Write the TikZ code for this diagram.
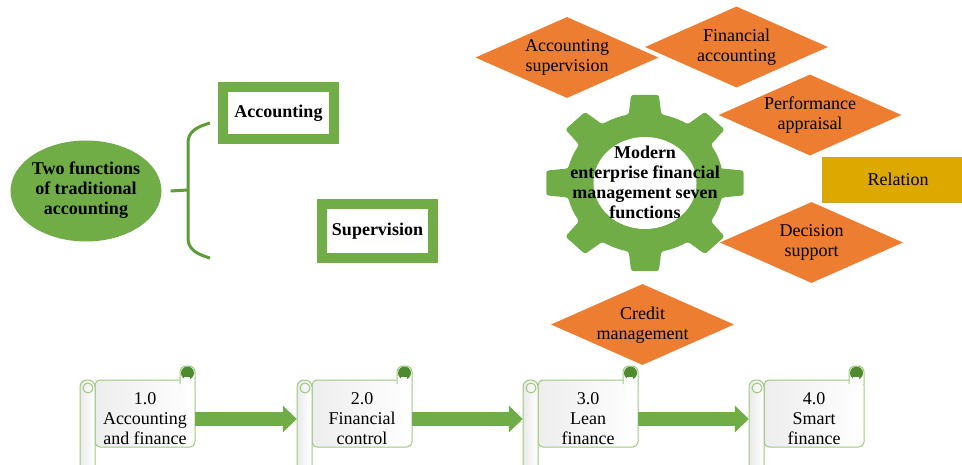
\documentclass[tikz,border=0pt]{standalone}
\usepackage{fontspec}
\setmainfont{LiberationSerif}[Extension=.ttf, UprightFont=*-Regular, BoldFont=*-Bold, ItalicFont=*-Italic, BoldItalicFont=*-BoldItalic]
\usetikzlibrary{shapes.geometric,arrows.meta}
\definecolor{gr}{HTML}{70AD47}
\definecolor{orng}{HTML}{ED7D31}
\definecolor{gold}{HTML}{DDA800}
\definecolor{goldline}{HTML}{C9A227}
\definecolor{brc}{HTML}{5E9C3A}
\definecolor{scl}{HTML}{9DC97F}
\definecolor{dkg}{HTML}{4E8A2E}
\begin{document}
\begin{tikzpicture}[x=1pt,y=-1pt,
  tx/.style={align=center, inner sep=0pt, text=black, font=\rmfamily\fontsize{18}{20}\selectfont},
  btx/.style={tx, font=\rmfamily\fontsize{18}{20}\selectfont\bfseries},
  dia/.style={diamond, fill=orng, minimum width=183pt, minimum height=81pt, inner sep=0pt},
  gbox/.style={btx, draw=gr, line width=10pt, fill=white},
  ell/.style={ellipse, fill=gr, minimum width=151pt, minimum height=101pt, inner sep=0pt},
  relbox/.style={tx, fill=gold, draw=goldline, line width=0.8pt, minimum width=152pt, minimum height=45pt},
  arr/.style={draw=gr, line width=14pt, -{Triangle[length=14pt,width=26pt,fill=gr]}},
  brace/.style={draw=brc, line width=3pt},
  scrollpic/.pic={
    \draw[scl, line width=1pt, left color=black!7, right color=white, rounded corners=5pt] (15,14) rectangle (115,81);
    \draw[scl, line width=1pt, fill=white, rounded corners=6pt] (100,18) -- (100,0) -- (115,0) -- (115,18);
    \fill[dkg] (107.5,7) circle[radius=6.5];
    \fill[white] (104,11) rectangle (110,14);
    \draw[scl, line width=1pt, left color=black!8, right color=white, rounded corners=7pt] (0,104) -- (0,14) -- (15,14) -- (15,104);
    \draw[scl, line width=1pt] (8,22) circle[radius=5];
  }]
\clip (0,0) rectangle (962,465);
\fill[white] (0,0) rectangle (962,465);

% left part
\node[ell] (el) at (86,191) {};
\node[btx] (elt) at (86,190) {Two functions\\of traditional\\accounting};
\coordinate (bs) at ([xshift=9pt]el.east);
\coordinate (bm) at (188,190);
\coordinate (bt) at (210,123);
\coordinate (bb) at (210,258);
\draw[brace] (bs) -- (bm);
\draw[brace] (bt) .. controls (196,127) and (188,132) .. (188,143) -- (188,238) .. controls (188,249) and (196,254) .. (bb);
\node[gbox, minimum width=111pt, minimum height=52pt] (acc) at (278.5,113) {Accounting};
\node[gbox, minimum width=111pt, minimum height=54pt] (sup) at (377.5,231) {Supervision};

% gear
\begin{scope}[shift={(645,183)}, xscale=1.12]
\fill[gr, rounded corners=2.5pt] (-12:70) \foreach \a in {0,45,...,315}{ -- (\a-8:89) -- (\a+8:89) -- (\a+12:70) arc[start angle=\a+12, end angle=\a+33, radius=70] };
\fill[white] (0,0) circle[radius=46];
\end{scope}
\node[btx] (gt) at (645,182) {Modern\\enterprise financial\\management seven\\functions};

% diamonds
\node[dia] (d1) at (567,57.5) {};
\node[tx] (d1t) at (d1) {Accounting\\supervision};
\node[dia] (d2) at (736.5,47) {};
\node[tx] (d2t) at (d2) {Financial\\accounting};
\node[dia] (d3) at (810,115) {};
\node[tx] (d3t) at (d3) {Performance\\appraisal};
\node[dia] (d5) at (811.5,242.5) {};
\node[tx] (d5t) at (d5) {Decision\\support};
\node[dia] (d6) at (642.5,324.5) {};
\node[tx] (d6t) at (642.5,325) {Credit\\management};
\node[relbox] (rel) at (898,179.5) {Relation};

% scrolls
\pic at (80,366) {scrollpic};
\pic at (297,366) {scrollpic};
\pic at (523,366) {scrollpic};
\pic at (749,366) {scrollpic};
\node[tx, minimum width=100pt] (s1) at (145,419) {1.0\\Accounting\\and finance};
\node[tx, minimum width=100pt] (s2) at (362,419) {2.0\\Financial\\control};
\node[tx, minimum width=100pt] (s3) at (588,419) {3.0\\Lean\\finance};
\node[tx, minimum width=100pt] (s4) at (814,419) {4.0\\Smart\\finance};
\draw[arr] (s1.east) -- ([xshift=-15pt]s2.west);
\draw[arr] (s2.east) -- ([xshift=-15pt]s3.west);
\draw[arr] (s3.east) -- ([xshift=-15pt]s4.west);
\end{tikzpicture}
\end{document}
